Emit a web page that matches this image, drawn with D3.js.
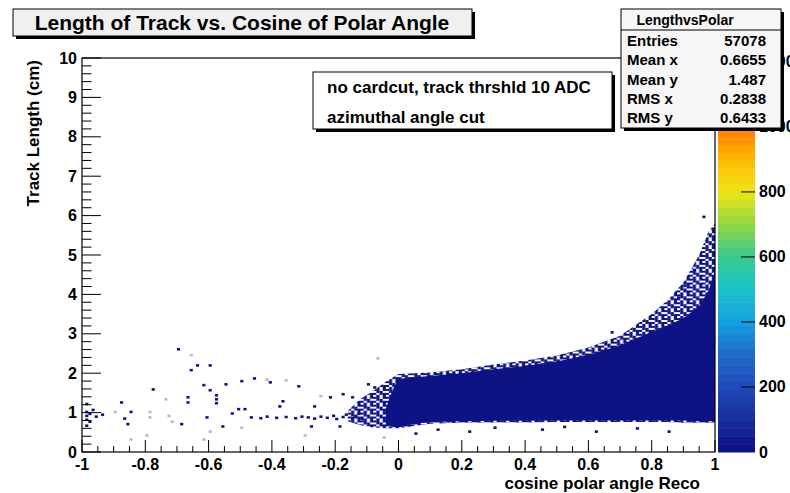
<!DOCTYPE html>
<html>
<head>
<meta charset="utf-8">
<script src="https://cdn.jsdelivr.net/npm/d3@7"></script>
<style>
  body { margin: 0; background: #fff; }
  svg text { font-family: "Liberation Sans", Arial, Helvetica, sans-serif; font-weight: bold; fill: #000; }
</style>
</head>
<body>
<svg id="paper" width="790" height="493"></svg>
<script>
// axis labels
var xTickLabels = [-1, -0.8, -0.6, -0.4, -0.2, 0, 0.2, 0.4, 0.6, 0.8, 1];
var yTickLabels = [0, 1, 2, 3, 4, 5, 6, 7, 8, 9, 10];
var zTickLabels = [0, 200, 400, 600, 800, 1000, 1200];
var zMax = 1212;

// dense core of the histogram (cos, lower / upper track length)
var bandX    = [-0.04, -0.02, 0.0, 0.05, 0.1, 0.2, 0.3, 0.4, 0.5, 0.6, 0.7, 0.8, 0.85, 0.9, 0.95, 0.98, 1.0];
var bandLow  = [0.7, 0.64, 0.62, 0.72, 0.76, 0.78, 0.79, 0.79, 0.8, 0.8, 0.8, 0.8, 0.8, 0.8, 0.78, 0.78, 0.78];
var bandHigh = [1.1, 1.55, 1.85, 1.9, 1.93, 2.0, 2.1, 2.18, 2.3, 2.46, 2.7, 3.05, 3.2, 3.4, 3.7, 4.1, 4.6];
var bandCount = 15;

// speckled halo round the core
var haloX    = [-0.16, -0.12, -0.08, -0.04, 0.0, 0.1, 0.2, 0.3, 0.4, 0.5, 0.6, 0.7, 0.8, 0.85, 0.9, 0.95, 0.98, 1.0];
var haloLow  = [0.78, 0.68, 0.62, 0.6, 0.6, 0.72, 0.74, 0.75, 0.75, 0.76, 0.76, 0.76, 0.76, 0.76, 0.74, 0.74, 0.74, 0.74];
var haloHigh = [1.05, 1.35, 1.55, 1.78, 1.98, 2.02, 2.1, 2.22, 2.32, 2.45, 2.65, 2.95, 3.5, 3.85, 4.3, 5.0, 5.6, 5.8];

// isolated filled bins
var strayPoints = [
  [-0.70, 2.59], [-0.64, 2.18], [-0.60, 2.18], [-0.66, 2.06], [-0.78, 1.57], [-0.62, 1.68], [-0.60, 1.55],
  [-0.55, 1.70], [-0.58, 1.42], [-0.58, 1.32], [-0.58, 1.22], [-0.67, 1.37], [-0.67, 1.24], [-0.88, 1.24],
  [-0.85, 1.00], [-0.87, 0.83], [-0.86, 0.69], [-0.69, 0.69], [-0.61, 0.86], [-0.56, 0.63], [-0.53, 0.96],
  [-0.50, 1.78], [-0.46, 1.85], [-0.41, 1.75], [-0.32, 1.65], [-0.37, 1.27], [-0.22, 1.37], [-0.18, 1.45],
  [-0.15, 1.37], [-0.10, 1.70], [-0.08, 1.62], [-0.51, 1.07], [-0.49, 1.07], [-0.38, 1.14], [-0.27, 1.14],
  [-0.28, 0.63], [-0.19, 0.63],
  [-0.47, 0.86], [-0.44, 0.84], [-0.42, 0.88], [-0.39, 0.85], [-0.36, 0.87], [-0.33, 0.84], [-0.31, 0.88],
  [-0.29, 0.86], [-0.27, 0.83], [-0.25, 0.88], [-0.23, 0.85], [-0.21, 0.90], [-0.20, 0.82], [-0.18, 0.87],
  [-0.17, 0.93], [-0.15, 0.84], [-0.14, 0.88], [-0.13, 0.95], [-0.12, 0.82],
  [-0.99, 1.00], [-0.99, 0.90], [-0.98, 0.95], [-0.99, 0.80], [-0.98, 0.75], [-0.97, 1.05], [-0.96, 0.88],
  [-0.99, 1.20], [-0.99, 0.65], [-0.94, 0.93],
  [0.67, 3.02], [0.82, 2.40], [0.96, 5.95], [0.93, 4.60], [0.90, 4.20], [0.88, 3.90],
  [0.05, 0.45], [0.12, 0.55], [0.22, 0.50], [0.30, 0.60], [0.45, 0.55], [0.52, 0.62], [0.62, 0.50],
  [0.75, 0.58], [0.85, 0.50]
];
var faintPoints = [
  [-0.66, 2.44], [-0.74, 1.32], [-0.90, 1.00], [-0.79, 1.00], [-0.79, 0.86], [-0.73, 0.90], [-0.72, 0.75],
  [-0.50, 0.60], [-0.42, 1.82], [-0.36, 1.80], [-0.07, 2.36], [-0.25, 1.40], [-0.60, 0.50], [-0.80, 0.40],
  [-0.62, 0.30], [-0.85, 0.30], [-0.30, 0.40], [-0.05, 0.35]
];

// palette stops (fraction of zMax)
var paletteAt  = [0, 0.08, 0.17, 0.25, 0.33, 0.42, 0.5, 0.58, 0.66, 0.74, 0.83, 0.92, 1];
var paletteHex = ["#0b0e80", "#182c9c", "#1f4cb8", "#1f6cc8", "#13a0de", "#1cc4c8", "#3cc88c", "#90d840",
                  "#eee418", "#ffbc00", "#ff7400", "#ff4a00", "#e81800"];

var svg = d3.select("#paper");
var frameL = 82, frameR = 715, frameT = 58, frameB = 452;

var x = d3.scaleLinear().domain([-1, 1]).range([frameL, frameR]);
var y = d3.scaleLinear().domain([0, 10]).range([frameB, frameT]);
var z = d3.scaleLinear().domain([0, zMax]).range([frameB, frameT]);
var palette = d3.scaleLinear().domain(paletteAt.map(function (f) { return f * zMax; })).range(paletteHex);
var nColors = 50;
var binColor = function (count) {
    // ROOT style: discrete colour bands
    var band = Math.floor(count / zMax * nColors);
    return palette((band + 0.5) * zMax / nColors);
};

var binW = x(-0.99) - x(-1);
var binH = y(0) - y(0.05);

// speckle texture for the halo
var defs = svg.append("defs");
var pat = defs.append("pattern")
    .attr("id", "speckle")
    .attr("patternUnits", "userSpaceOnUse")
    .attr("x", frameL).attr("y", frameT)
    .attr("width", binW * 4).attr("height", binH * 4);
[[0, 0], [1, 0], [3, 0], [1, 1], [2, 1], [0, 2], [2, 2], [3, 2], [1, 3], [3, 3]].forEach(function (c) {
    pat.append("rect")
        .attr("x", c[0] * binW).attr("y", c[1] * binH)
        .attr("width", binW).attr("height", binH)
        .attr("fill", binColor(bandCount));
});

// frame fill
svg.append("rect").attr("x", frameL).attr("y", frameT).attr("width", frameR - frameL).attr("height", frameB - frameT)
    .attr("fill", "#fff");

var plot = svg.append("g");

var halo = d3.area()
    .x(function (d, i) { return x(haloX[i]); })
    .y0(function (d, i) { return y(haloLow[i]); })
    .y1(function (d, i) { return y(haloHigh[i]); });
plot.append("path").datum(haloX).attr("d", halo).attr("fill", "url(#speckle)");

var band = d3.area()
    .x(function (d, i) { return x(bandX[i]); })
    .y0(function (d, i) { return y(bandLow[i]); })
    .y1(function (d, i) { return y(bandHigh[i]); });
plot.append("path").datum(bandX).attr("d", band).attr("fill", binColor(bandCount));

plot.selectAll("rect.stray").data(strayPoints).enter().append("rect")
    .attr("class", "stray")
    .attr("x", function (d) { return x(d[0]); })
    .attr("y", function (d) { return y(d[1]) - binH; })
    .attr("width", binW).attr("height", binH + 0.6)
    .attr("fill", binColor(1));

plot.selectAll("rect.faint").data(faintPoints).enter().append("rect")
    .attr("class", "faint")
    .attr("x", function (d) { return x(d[0]); })
    .attr("y", function (d) { return y(d[1]) - binH; })
    .attr("width", binW).attr("height", binH + 0.6)
    .attr("fill", binColor(1)).attr("opacity", 0.3);

// frame
svg.append("rect").attr("x", frameL).attr("y", frameT).attr("width", frameR - frameL).attr("height", frameB - frameT)
    .attr("fill", "none").attr("stroke", "#000").attr("stroke-width", 1.2);

// x axis ticks
var xMinor = d3.range(-1, 1.0001, 0.05);
svg.append("g").selectAll("line").data(xMinor).enter().append("line")
    .attr("x1", function (d) { return x(d); }).attr("x2", function (d) { return x(d); })
    .attr("y1", frameB)
    .attr("y2", function (d, i) { return frameB - (i % 4 == 0 ? 12 : 6); })
    .attr("stroke", "#000").attr("stroke-width", 1);
svg.append("g").selectAll("text").data(xTickLabels).enter().append("text")
    .attr("x", function (d) { return x(d); })
    .attr("y", 470)
    .attr("text-anchor", "middle")
    .attr("font-size", 16)
    .text(function (d) { return d; });

// y axis ticks
var yMinor = d3.range(0, 10.0001, 0.2);
svg.append("g").selectAll("line").data(yMinor).enter().append("line")
    .attr("y1", function (d) { return y(d); }).attr("y2", function (d) { return y(d); })
    .attr("x1", frameL)
    .attr("x2", function (d, i) { return frameL + (i % 5 == 0 ? 19 : 9.5); })
    .attr("stroke", "#000").attr("stroke-width", 1);
svg.append("g").selectAll("text").data(yTickLabels).enter().append("text")
    .attr("x", 77)
    .attr("y", function (d) { return y(d) + 5.5; })
    .attr("text-anchor", "end")
    .attr("font-size", 16)
    .text(function (d) { return d; });

// axis titles
svg.append("text").attr("x", 700).attr("y", 489).attr("text-anchor", "end").attr("font-size", 17)
    .text("cosine polar angle Reco");
svg.append("text").attr("transform", "translate(39,60) rotate(-90)").attr("text-anchor", "end")
    .attr("font-size", 17).text("Track Length (cm)");

// colour bar
var barL = 718, barR = 755;
svg.append("g").selectAll("rect").data(d3.range(nColors)).enter().append("rect")
    .attr("x", barL).attr("width", barR - barL)
    .attr("y", function (i) { return z((i + 1) * zMax / nColors); })
    .attr("height", function (i) { return z(i * zMax / nColors) - z((i + 1) * zMax / nColors) + 0.5; })
    .attr("fill", function (i) { return palette((i + 0.5) * zMax / nColors); });
svg.append("g").selectAll("line").data(zTickLabels.slice(1)).enter().append("line")
    .attr("x1", barR).attr("x2", barR - 14)
    .attr("y1", function (d) { return z(d); }).attr("y2", function (d) { return z(d); })
    .attr("stroke", "#000").attr("stroke-width", 1);
svg.append("g").selectAll("text").data(zTickLabels).enter().append("text")
    .attr("x", 759)
    .attr("y", function (d) { return z(d) + 5.5; })
    .attr("font-size", 16)
    .text(function (d) { return d; });

// boxes
function pave(x0, y0, w, h, fill) {
    svg.append("rect").attr("x", x0 + 3).attr("y", y0 + 3).attr("width", w).attr("height", h).attr("fill", "#000");
    svg.append("rect").attr("x", x0).attr("y", y0).attr("width", w).attr("height", h)
        .attr("fill", fill).attr("stroke", "#000").attr("stroke-width", 1);
}

// title
pave(13, 9, 459, 27, "#f0f0f0");
svg.append("text").attr("x", 242).attr("y", 30).attr("text-anchor", "middle").attr("font-size", 21)
    .text("Length of Track vs. Cosine of Polar Angle");

// comment box
pave(313, 72, 299, 57, "#fff");
svg.append("text").attr("x", 327).attr("y", 93).attr("font-size", 17).text("no cardcut, track thrshld 10 ADC");
svg.append("text").attr("x", 327).attr("y", 123).attr("font-size", 17).text("azimuthal angle cut");

// stats box
var statNames = ["Entries", "Mean x", "Mean y", "RMS x", "RMS y"];
var statValues = ["57078", "0.6655", "1.487", "0.2838", "0.6433"];
pave(621, 9, 160, 119, "#f6f6f6");
svg.append("line").attr("x1", 621).attr("x2", 781).attr("y1", 30).attr("y2", 30).attr("stroke", "#000");
svg.append("text").attr("x", 685).attr("y", 25).attr("text-anchor", "middle").attr("font-size", 14)
    .attr("font-weight", "normal").text("LengthvsPolar");
var rowY = d3.scaleLinear().domain([0, 4]).range([46, 123]);
svg.append("g").selectAll("text").data(statNames).enter().append("text")
    .attr("x", 627).attr("y", function (d, i) { return rowY(i); })
    .attr("font-size", 15).text(function (d) { return d; });
svg.append("g").selectAll("text").data(statValues).enter().append("text")
    .attr("x", 766).attr("y", function (d, i) { return rowY(i); })
    .attr("text-anchor", "end").attr("font-size", 15).text(function (d) { return d; });
</script>
</body>
</html>
